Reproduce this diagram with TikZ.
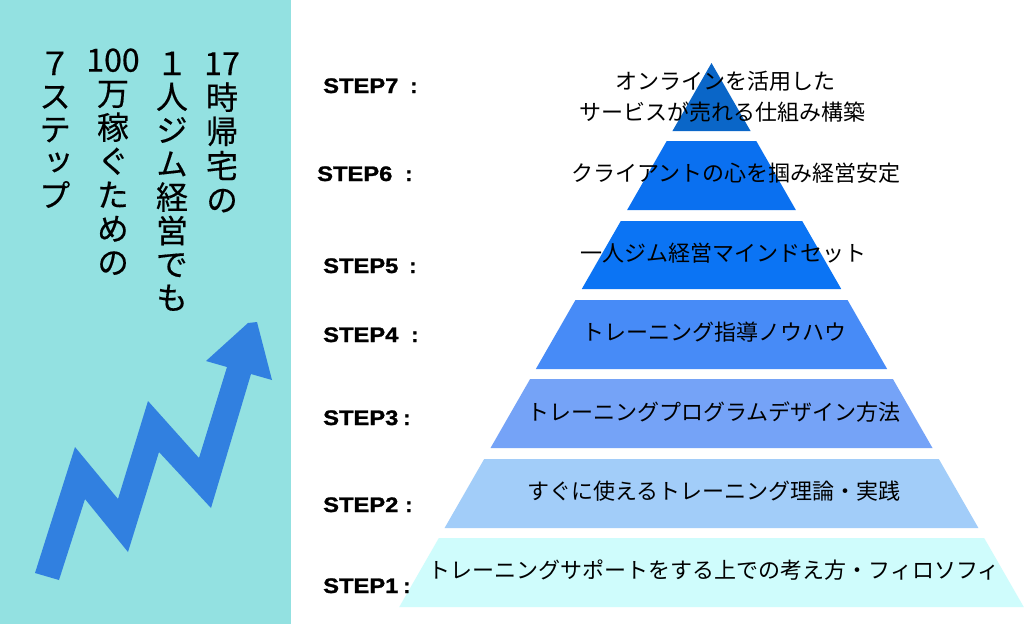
\documentclass[tikz,border=0pt]{standalone}
\usepackage{fontspec}
\newfontfamily\jp{Noto Sans CJK JP}
\newfontfamily\jpv[RawFeature=+vert,FakeBold=0.4]{Noto Sans CJK JP}
\newfontfamily\stepfont[FakeBold=1.2]{Liberation Sans Bold}
\definecolor{panel}{HTML}{93E1E1}
\definecolor{arrowblue}{HTML}{3180E0}
\definecolor{tierA}{HTML}{0A66C8}
\definecolor{tierB}{HTML}{0A70F0}
\definecolor{tierC}{HTML}{0B74F4}
\definecolor{tierD}{HTML}{478BF7}
\definecolor{tierE}{HTML}{75A3F7}
\definecolor{tierF}{HTML}{A2CDF9}
\definecolor{tierG}{HTML}{CFFCFC}
\begin{document}
\begin{tikzpicture}[x=1pt,y=-1pt,
  vchar/.style={font=\jpv\fontsize{32}{32}\selectfont, inner sep=0pt, text height=28.16pt, text depth=3.84pt, anchor=center},
  tiertxt/.style={font=\jp\fontsize{22}{22}\selectfont, inner sep=0pt, text height=19.36pt, text depth=2.64pt, anchor=center},
  steplbl/.style={font=\stepfont\fontsize{21}{21}\selectfont, inner sep=0pt, anchor=base west}]
\useasboundingbox (0,0) rectangle (1024,624);
\fill[white] (0,0) rectangle (1024,624);
\fill[panel] (0,0) rectangle (291,624);

% zigzag arrow
\fill[arrowblue] (35,573) -- (75,447) -- (118,499) -- (148,401) -- (199,458) -- (227,367)
  -- (206,361) -- (248,323) -- (257,322) -- (272,380) -- (251,374) -- (211,508)
  -- (159,452) -- (128,552) -- (85,499) -- (59,580) -- cycle;

% vertical title
\foreach \c [count=\i from 0] in {17,時,帰,宅,の}
  \node[vchar] (ca\i) at (222, 63+34.2*\i) {\c};
\foreach \c [count=\i from 0] in {１,人,ジ,ム,経,営,で,も}
  \node[vchar] (cb\i) at (172, 63+33.5*\i) {\c};
\foreach \c [count=\i from 0] in {100,万,稼,ぐ,た,め,の}
  \node[vchar] (cc\i) at (113, 59.5+33.8*\i) {\c};
\foreach \c [count=\i from 0] in {７,ス,テ,ッ,プ}
  \node[vchar] (cd\i) at (55, 63+33*\i) {\c};

% pyramid tiers
\def\cx{711.5}
\def\sl{0.574}
\def\ay{63}
\foreach \top/\bot/\col in {63/131/tierA,141/210/tierB,221/289/tierC,300/369/tierD,379/448/tierE,459/528/tierF,538/607/tierG}{
  \pgfmathsetmacro{\ht}{(\top-\ay)*\sl}
  \pgfmathsetmacro{\hb}{(\bot-\ay)*\sl}
  \fill[\col] (\cx-\ht,\top) -- (\cx+\ht,\top) -- (\cx+\hb,\bot) -- (\cx-\hb,\bot) -- cycle;
}

% tier texts
\node[tiertxt] (t7a) at (725,81.5) {オンラインを活用した};
\node[tiertxt] (t7b) at (722,112.5) {サービスが売れる仕組み構築};
\node[tiertxt] (t6) at (736,173) {クライアントの心を掴み経営安定};
\node[tiertxt] (t5) at (723,253) {一人ジム経営マインドセット};
\node[tiertxt] (t4) at (714,332) {トレーニング指導ノウハウ};
\node[tiertxt] (t3) at (714,412) {トレーニングプログラムデザイン方法};
\node[tiertxt] (t2) at (714,491) {すぐに使えるトレーニング理論・実践};
\node[tiertxt] (t1) at (714,570) {トレーニングサポートをする上での考え方・フィロソフィ};

% step labels
\node[steplbl] (s7) at (323,93) {\scalebox{1.13}[1]{STEP7}\hspace{12pt}:};
\node[steplbl] (s6) at (317,181) {\scalebox{1.13}[1]{STEP6}\hspace{13pt}:};
\node[steplbl] (s5) at (323,273) {\scalebox{1.13}[1]{STEP5}\hspace{11pt}:};
\node[steplbl] (s4) at (323,342) {\scalebox{1.13}[1]{STEP4}\hspace{13pt}:};
\node[steplbl] (s3) at (323,425) {\scalebox{1.13}[1]{STEP3}\hspace{5pt}:};
\node[steplbl] (s2) at (323,512) {\scalebox{1.13}[1]{STEP2}\hspace{7pt}:};
\node[steplbl] (s1) at (323,593) {\scalebox{1.13}[1]{STEP1}\hspace{5pt}:};
\end{tikzpicture}
\end{document}
